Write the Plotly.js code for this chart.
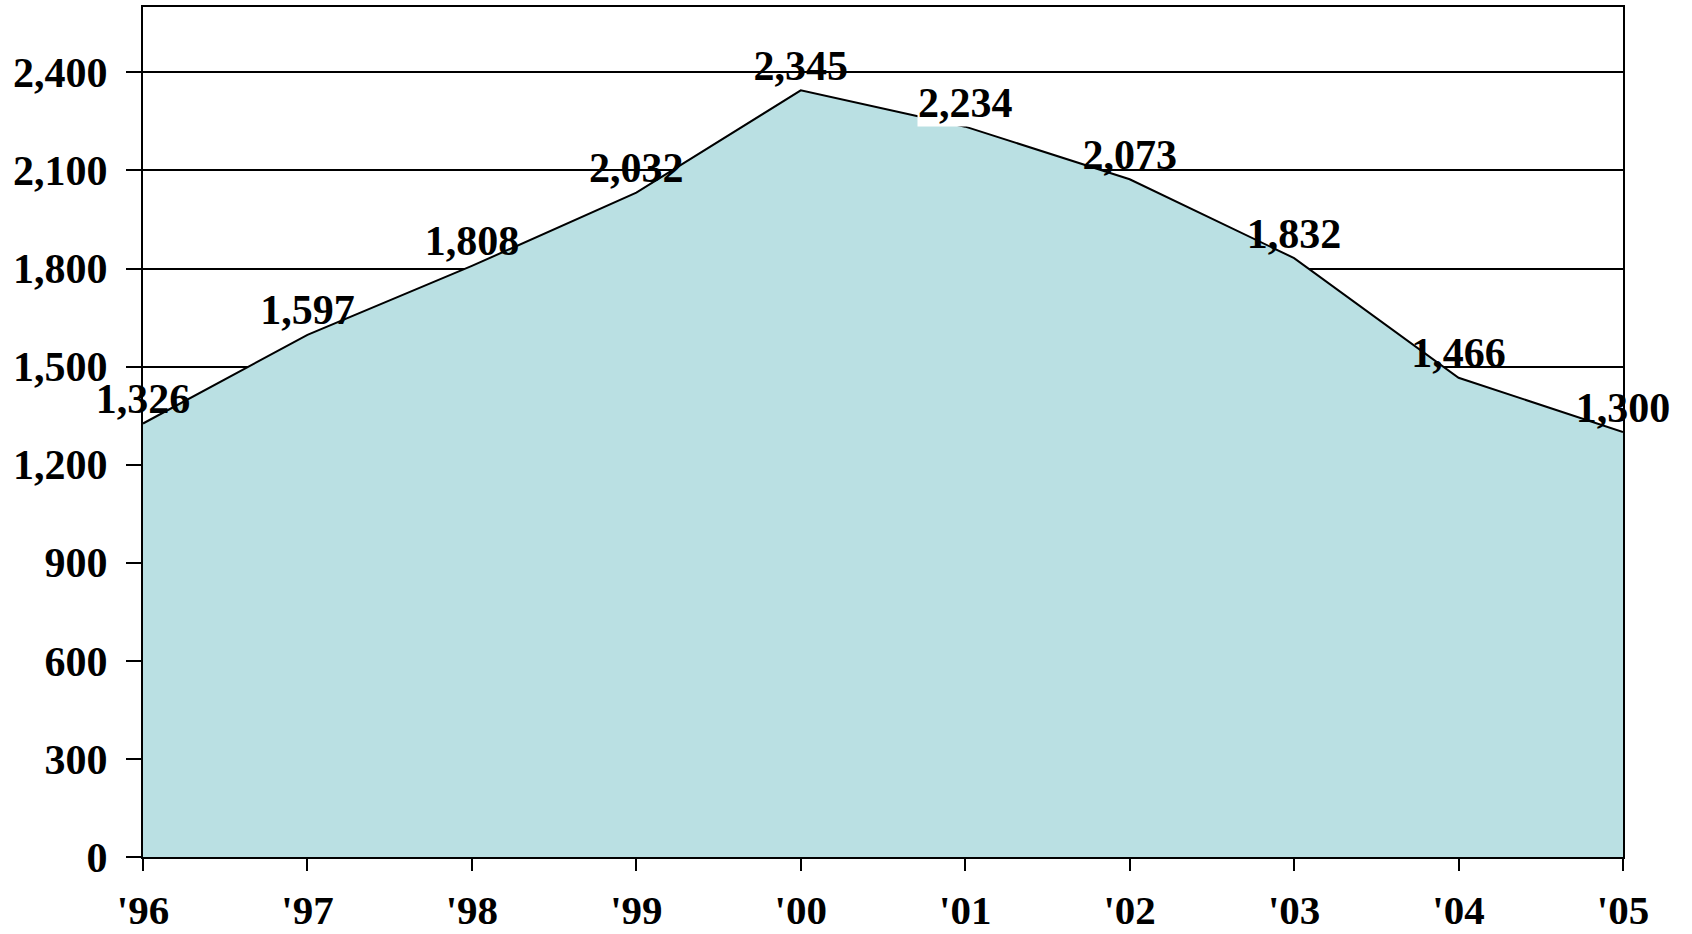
<!DOCTYPE html>
<html>
<head>
<meta charset="utf-8">
<script src="https://cdn.plot.ly/plotly-3.0.1.min.js"></script>
<style>html,body{margin:0;padding:0;background:#fff;}#chart{width:1692px;height:934px;}</style>
</head>
<body>
<div id="chart"></div>
<script>
const years = ["'96", "'97", "'98", "'99", "'00", "'01", "'02", "'03", "'04", "'05"];
const values = [1326, 1597, 1808, 2032, 2345, 2234, 2073, 1832, 1466, 1300];
const boxedLabels = ["'01"]; // labels drawn on a white box
const yTicks = [0, 300, 600, 900, 1200, 1500, 1800, 2100, 2400];

const fontFam = "Liberation Serif, Times New Roman, serif";
const fmt = v => v.toLocaleString('en-US');

const labelText = values.map((v, i) => boxedLabels.includes(years[i]) ? '' : fmt(v));

const trace = {
  type: 'scatter',
  mode: 'lines+text',
  x: years,
  y: values,
  text: labelText,
  textposition: 'top center',
  textfont: {family: fontFam, size: 42, color: '#000', weight: 'bold'},
  fill: 'tozeroy',
  fillcolor: '#BAE0E3',
  line: {color: '#000', width: 2},
  hoverinfo: 'skip',
  cliponaxis: false
};

const annotations = years.map((yr, i) => boxedLabels.includes(yr) ? {
  x: yr, y: values[i], xref: 'x', yref: 'y',
  text: fmt(values[i]), showarrow: false,
  yanchor: 'bottom', yshift: 0,
  bgcolor: '#fff', borderpad: 0,
  font: {family: fontFam, size: 42, color: '#000', weight: 'bold'}
} : null).filter(a => a);

const layout = {
  width: 1692, height: 934,
  margin: {l: 143, r: 69, t: 7, b: 77, pad: 0},
  paper_bgcolor: '#fff', plot_bgcolor: '#fff',
  showlegend: false,
  font: {family: fontFam, size: 42, color: '#000', weight: 'bold'},
  xaxis: {
    type: 'category',
    range: [0, years.length - 1],
    showgrid: false,
    showline: true, linecolor: '#000', linewidth: 2, mirror: true,
    ticks: 'outside', ticklen: 12, tickwidth: 2, tickcolor: '#000',
    ticklabelstandoff: 4,
    tickfont: {family: fontFam, size: 41, color: '#000', weight: 'bold'},
    zeroline: false, fixedrange: true
  },
  yaxis: {
    range: [0, 2600],
    tickmode: 'array', tickvals: yTicks, ticktext: yTicks.map(fmt),
    showgrid: true, gridcolor: '#000', gridwidth: 2,
    showline: true, linecolor: '#000', linewidth: 2, mirror: true,
    ticks: 'outside', ticklen: 15, tickwidth: 2, tickcolor: '#000',
    ticklabelstandoff: 10,
    tickfont: {family: fontFam, size: 42, color: '#000', weight: 'bold'},
    zeroline: false, fixedrange: true
  },
  annotations: annotations
};

Plotly.newPlot('chart', [trace], layout, {staticPlot: true, displayModeBar: false});
</script>
</body>
</html>
